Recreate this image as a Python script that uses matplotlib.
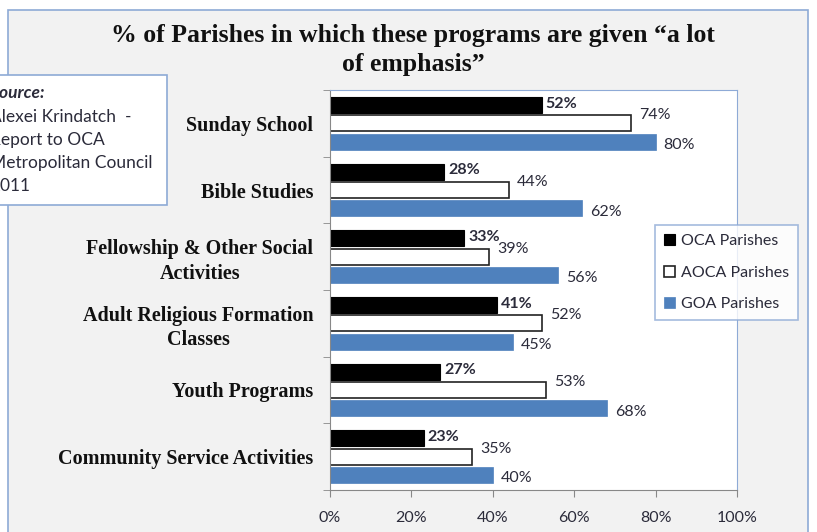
import matplotlib.pyplot as plt
import numpy as np
from matplotlib.patches import Rectangle

categories = [
    "Sunday School",
    "Bible Studies",
    "Fellowship & Other Social\nActivities",
    "Adult Religious Formation\nClasses",
    "Youth Programs",
    "Community Service Activities",
]
oca = [52, 28, 33, 41, 27, 23]
aoca = [74, 44, 39, 52, 53, 35]
goa = [80, 62, 56, 45, 68, 40]
xticks = [0, 20, 40, 60, 80, 100]

title = "% of Parishes in which these programs are given \u201ca lot\nof emphasis\u201d"
source_lines = ["Alexei Krindatch  -", "Report to OCA", "Metropolitan Council", "2011"]

SERIF = "Liberation Serif"
SANS = "Lato"
TXT = "#2b2b3a"
BLUE = "#4f81bd"
FRAME = "#8eaad6"

fig = plt.figure(figsize=(8.17, 5.32), dpi=100)
fig.patch.set_facecolor("white")

# outer chart area
fig.patches.append(Rectangle((8 / 817, -0.1), 800 / 817, 1.1 - 10 / 532,
                             transform=fig.transFigure, facecolor="#f2f2f2",
                             edgecolor=FRAME, linewidth=1.2, zorder=-1))

ax = fig.add_axes([330 / 817, 1 - 490 / 532, 407 / 817, 400 / 532])
ax.set_facecolor("white")

y = np.arange(len(categories))
h = 0.24
step = 0.275
ax.barh(y - step, oca, height=h, color="black", edgecolor="black", linewidth=0.8)
ax.barh(y, aoca, height=h, color="white", edgecolor="#222222", linewidth=1.2)
ax.barh(y + step, goa, height=h, color=BLUE, edgecolor=BLUE, linewidth=0.5)

for i in range(len(categories)):
    ax.text(oca[i] + 1.0, y[i] - step - 0.02, f"{oca[i]}%", va="center", ha="left",
            fontsize=11.5, fontweight="bold", family=SANS, color=TXT)
    ax.text(aoca[i] + 2.0, y[i] - 0.12, f"{aoca[i]}%", va="center", ha="left",
            fontsize=11.5, family=SANS, color=TXT)
    ax.text(goa[i] + 2.0, y[i] + step + 0.05, f"{goa[i]}%", va="center", ha="left",
            fontsize=11.5, family=SANS, color=TXT)

ax.set_xlim(0, 100)
ax.set_ylim(len(categories) - 0.5, -0.5)
ax.set_xticks(xticks)
ax.set_xticklabels([f"{t}%" for t in xticks], family=SANS, fontsize=11.5, color=TXT)
ax.set_yticks(y)
ax.set_yticklabels(categories, family=SERIF, fontweight="bold", fontsize=14.5,
                   color="#111111", multialignment="center", linespacing=1.3)
ax.tick_params(axis="y", length=0, pad=12)
ax.set_yticks(np.arange(-0.5, len(categories)), minor=True)
ax.tick_params(axis="y", which="minor", length=5, color="#888888")
ax.tick_params(axis="x", length=5, color="#888888", pad=10)

for s in ["top", "right"]:
    ax.spines[s].set_color(FRAME)
for s in ["left", "bottom"]:
    ax.spines[s].set_color("#888888")

fig.text(413 / 817, 1 - 50 / 532, title, ha="center", va="center", family=SERIF,
         fontweight="bold", fontsize=18.5, color="#111111", linespacing=1.3)

# source box, cut off at the left edge
fig.patches.append(Rectangle((-0.02, 1 - 205 / 532), 167 / 817 + 0.02, 130 / 532,
                             transform=fig.transFigure, facecolor="white",
                             edgecolor=FRAME, linewidth=1.2, zorder=3))
fig.text(-10 / 817, 1 - 93 / 532, "Source:", ha="left", va="center", family=SANS,
         fontsize=12.5, fontweight="bold", style="italic", color=TXT, zorder=4)
for k, line in enumerate(source_lines):
    fig.text(-10 / 817, 1 - (117 + 23 * k) / 532, line, ha="left", va="center",
             family=SANS, fontsize=12.5, color=TXT, zorder=4)

leg = fig.legend(["OCA Parishes", "AOCA Parishes", "GOA Parishes"],
                 loc="upper left", bbox_to_anchor=(655 / 817, 1 - 225 / 532),
                 prop={"family": SANS, "size": 11.5}, frameon=True, fancybox=False,
                 handlelength=0.7, handleheight=0.7, handletextpad=0.4,
                 labelspacing=1.1, borderpad=0.55, borderaxespad=0)
leg.get_frame().set_edgecolor(FRAME)
leg.get_frame().set_linewidth(1.2)
for t in leg.get_texts():
    t.set_color(TXT)

fig.savefig("out.png", dpi=100)
